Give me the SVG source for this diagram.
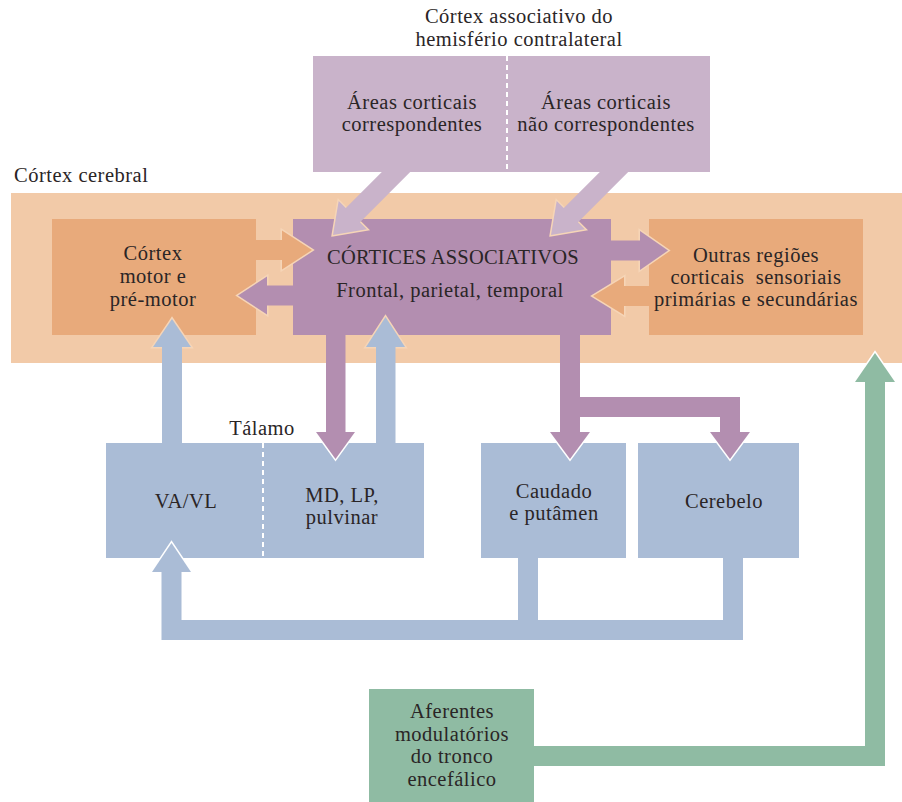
<svg xmlns="http://www.w3.org/2000/svg" width="902" height="802" viewBox="0 0 902 802">
  <style>
    text { font-family: "Liberation Serif", "DejaVu Serif", serif; font-size: 20.5px; letter-spacing: 0.5px; fill: #2a2526; text-anchor: middle; }
    .lbl { text-anchor: start; }
    .band { fill: #f2caa8; }
    .orange { fill: #e8aa7b; }
    .assoc { fill: #b38eb0; }
    .lilac { fill: #c9b3ca; }
    .blue { fill: #aabcd6; }
    .green { fill: #8fbba3; }
    .head-p { stroke: #f6d5b7; stroke-width: 3; paint-order: stroke; stroke-linejoin: miter; stroke-miterlimit: 10; }
    .head-w { stroke: #ffffff; stroke-width: 3; paint-order: stroke; stroke-linejoin: miter; stroke-miterlimit: 10; }
    .divider { stroke: #ffffff; stroke-width: 2; stroke-dasharray: 5 4; fill: none; }
  </style>

  <rect width="902" height="802" fill="#ffffff"/>

  <!-- cerebral cortex band -->
  <g id="cortex-cerebral">
    <rect class="band" x="11" y="193" width="891" height="170"/>
    <text class="lbl" x="14" y="182">Córtex cerebral</text>
  </g>

  <!-- contralateral hemisphere -->
  <g id="hemisferio-contralateral">
    <text x="519" y="23">Córtex associativo do</text>
    <text x="519" y="46">hemisfério contralateral</text>
    <rect class="lilac" x="313" y="56" width="397" height="116"/>
    <line class="divider" x1="507" y1="56" x2="507" y2="172"/>
    <text x="412" y="109">Áreas corticais</text>
    <text x="412" y="131">correspondentes</text>
    <text x="606" y="109">Áreas corticais</text>
    <text x="606" y="131">não correspondentes</text>
  </g>

  <g id="cortex-motor">
    <rect class="orange" x="52" y="219" width="204" height="116"/>
    <text x="153" y="260">Córtex</text>
    <text x="153" y="283">motor e</text>
    <text x="153" y="306">pré-motor</text>
  </g>

  <g id="cortices-associativos">
    <rect class="assoc" x="293" y="219" width="318" height="116"/>
    <text x="453" y="264" style="letter-spacing:0.2px">CÓRTICES ASSOCIATIVOS</text>
    <text x="450" y="297">Frontal, parietal, temporal</text>
  </g>

  <g id="outras-regioes">
    <rect class="orange" x="649" y="219" width="214" height="116"/>
    <text x="756" y="262">Outras regiões</text>
    <text x="756" y="284" xml:space="preserve">corticais  sensoriais</text>
    <text x="756" y="306">primárias e secundárias</text>
  </g>

  <g id="talamo">
    <text x="262" y="435">Tálamo</text>
    <rect class="blue" x="106" y="443" width="318" height="115"/>
    <line class="divider" x1="263" y1="443" x2="263" y2="558"/>
    <text x="186" y="508">VA/VL</text>
    <text x="342" y="502">MD, LP,</text>
    <text x="342" y="524">pulvinar</text>
  </g>

  <g id="caudado-putamen">
    <rect class="blue" x="481" y="443" width="145" height="115"/>
    <text x="554" y="498">Caudado</text>
    <text x="554" y="520">e putâmen</text>
  </g>

  <g id="cerebelo">
    <rect class="blue" x="638" y="443" width="161" height="115"/>
    <text x="724" y="508">Cerebelo</text>
  </g>

  <g id="aferentes-tronco">
    <rect class="green" x="369" y="689" width="165" height="113"/>
    <text x="452" y="718">Aferentes</text>
    <text x="452" y="741">modulatórios</text>
    <text x="452" y="763">do tronco</text>
    <text x="452" y="786">encefálico</text>
  </g>

  <!-- connectors: heads first (outlined), shafts on top -->
  <g id="connectors">
    <!-- contralateral -> associative cortices -->
    <polygon class="lilac head-p" points="333,235 366.9,229.3 338.7,201.1"/>
    <polygon class="lilac" points="382.8,171 411.2,171 358.5,223.7 344.3,209.5"/>
    <polygon class="lilac head-p" points="551,235 584.9,229.3 556.7,201.1"/>
    <polygon class="lilac" points="600.8,171 629.2,171 576.5,223.7 562.3,209.5"/>

    <!-- motor -> associative -->
    <polygon class="orange head-p" points="282,230.5 312,250 282,269.5"/>
    <rect class="orange" x="255" y="240" width="29" height="20"/>
    <!-- associative -> motor -->
    <polygon class="assoc head-p" points="267,276.5 238,295.5 267,314.5"/>
    <rect class="assoc" x="265" y="285.5" width="30" height="20"/>

    <!-- associative -> other regions -->
    <polygon class="assoc head-p" points="640,231 668,250.5 640,270"/>
    <rect class="assoc" x="609" y="240.5" width="33" height="20"/>
    <!-- other regions -> associative -->
    <polygon class="orange head-p" points="624,277 593,296 624,315"/>
    <rect class="orange" x="622" y="286" width="29" height="20"/>

    <!-- thalamus VA/VL -> motor -->
    <polygon class="blue head-p" points="153,347 172,319 191,347"/>
    <rect class="blue" x="162" y="345" width="20" height="99"/>
    <!-- thalamus MD -> associative -->
    <polygon class="blue head-p" points="366,347 385.5,317 405,347"/>
    <rect class="blue" x="376" y="345" width="19.5" height="99"/>

    <!-- associative -> MD/LP/pulvinar -->
    <polygon class="assoc head-w" points="316,432 335.5,459 355,432"/>
    <rect class="assoc" x="326" y="333" width="19.5" height="101"/>

    <!-- associative -> caudate and cerebellum -->
    <polygon class="assoc head-w" points="550,432 570,459 590,432"/>
    <polygon class="assoc head-w" points="710,432 730,459 750,432"/>
    <polygon class="assoc" points="560,333 580,333 580,397 740,397 740,434 720,434 720,417 580,417 580,434 560,434"/>

    <!-- caudate / cerebellum -> VA/VL -->
    <polygon class="blue head-w" points="152,572 171.5,543 191,572"/>
    <polygon class="blue" points="161.5,570 181.5,570 181.5,620 518,620 518,557 538,557 538,620 723,620 723,557 743,557 743,640 161.5,640"/>

    <!-- brainstem modulatory afferents -> cortex -->
    <polygon class="green head-w" points="855,382 875,353 895,382"/>
    <polygon class="green" points="533,746 865,746 865,380 885,380 885,766 533,766"/>
  </g>
</svg>
